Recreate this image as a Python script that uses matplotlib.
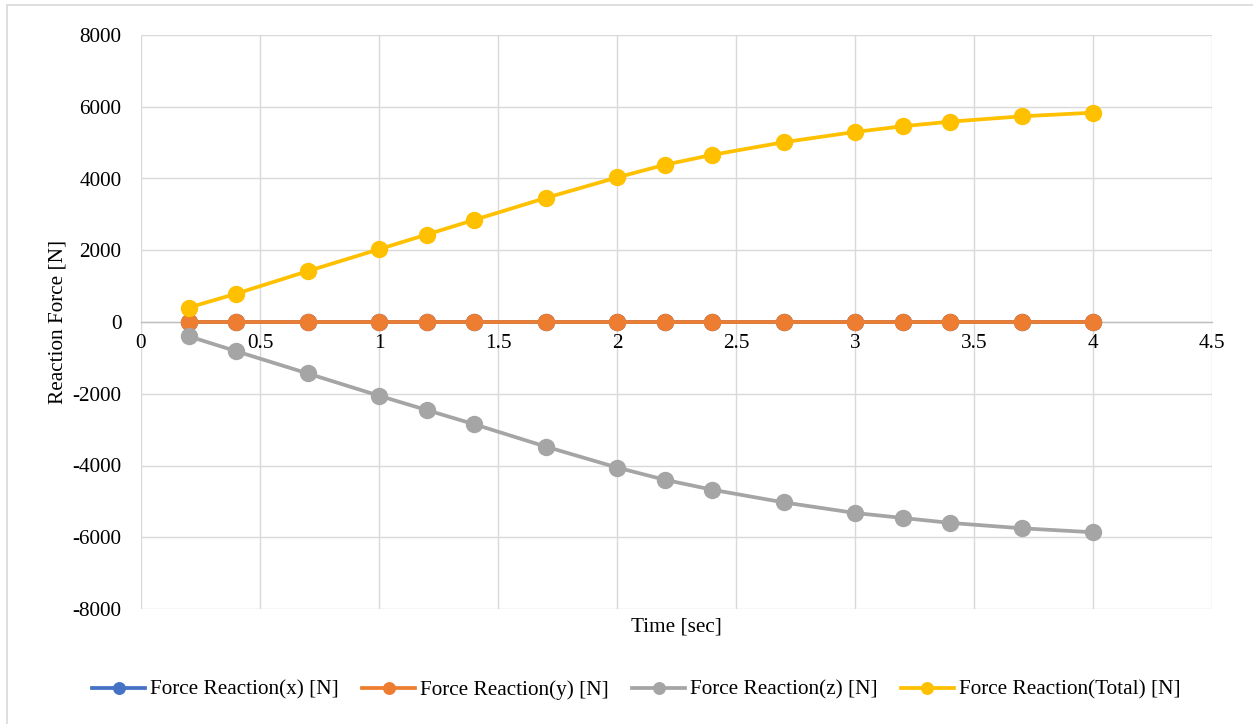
import matplotlib.pyplot as plt
from matplotlib.patches import Rectangle

plt.rcParams['font.family'] = ['Liberation Serif', 'DejaVu Serif']
plt.rcParams['axes.unicode_minus'] = False

# reaction forces over time
time = [0.2, 0.4, 0.7, 1.0, 1.2, 1.4, 1.7, 2.0, 2.2, 2.4, 2.7, 3.0, 3.2, 3.4, 3.7, 4.0]
force_x = [0] * 16
force_y = [0] * 16
force_z = [-397, -814, -1433, -2055, -2453, -2850, -3472, -4056, -4397, -4675,
           -5028, -5323, -5462, -5600, -5750, -5861]
force_total = [400, 789, 1417, 2028, 2436, 2845, 3456, 4028, 4381, 4659,
               5011, 5298, 5455, 5585, 5733, 5835]

series = [
    ('Force Reaction(x) [N]', force_x, '#4472C4'),
    ('Force Reaction(y) [N]', force_y, '#ED7D31'),
    ('Force Reaction(z) [N]', force_z, '#A5A5A5'),
    ('Force Reaction(Total) [N]', force_total, '#FFC000'),
]

fs = 15.3

fig = plt.figure(figsize=(12.53, 7.24), dpi=100)
ax = fig.add_axes([141 / 1253, 1 - 609 / 724, (1212 - 141) / 1253, (609 - 35) / 724])

# light outer chart border
fig.patches.append(Rectangle((7 / 1253, -0.01), 1.02, 1 - 5 / 724 + 0.01,
                             transform=fig.transFigure, fill=False,
                             edgecolor='#d9d9d9', linewidth=1.2))

for label, vals, col in series:
    ax.plot(time, vals, color=col, linewidth=2.7, marker='o', markersize=11.5,
            label=label, zorder=3)

ax.set_xlim(0, 4.5)
ax.set_ylim(-8000, 8000)
ax.set_xticks([0, 0.5, 1, 1.5, 2, 2.5, 3, 3.5, 4, 4.5])
ax.set_xticklabels(['0', '0.5', '1', '1.5', '2', '2.5', '3', '3.5', '4', '4.5'])
ax.set_yticks(range(-8000, 8001, 2000))

ax.grid(True, color='#d9d9d9', linewidth=1.0, zorder=0)
ax.set_axisbelow(True)

for s in ['top', 'right', 'left']:
    ax.spines[s].set_visible(False)
ax.spines['bottom'].set_position(('data', 0))
ax.spines['bottom'].set_color('#bfbfbf')
ax.spines['bottom'].set_linewidth(1.0)
ax.spines['bottom'].set_zorder(1)

ax.tick_params(axis='x', length=0, pad=9, labelsize=fs)
ax.tick_params(axis='y', length=0, pad=14, labelsize=fs)

ax.set_xlabel('Time [sec]', fontsize=fs)
ax.xaxis.set_label_coords(0.5, -0.015)
ax.set_ylabel('Reaction Force [N]', fontsize=fs)
ax.yaxis.set_label_coords(-0.069, 0.5)

leg = fig.legend(loc='center', bbox_to_anchor=(0.508, 1 - 690 / 724), ncol=4,
                 frameon=False, fontsize=fs, handlelength=2.5,
                 handletextpad=0.24, columnspacing=1.08)
for h in leg.legend_handles:
    h.set_markersize(8.3)

fig.savefig('out.png', dpi=100)
